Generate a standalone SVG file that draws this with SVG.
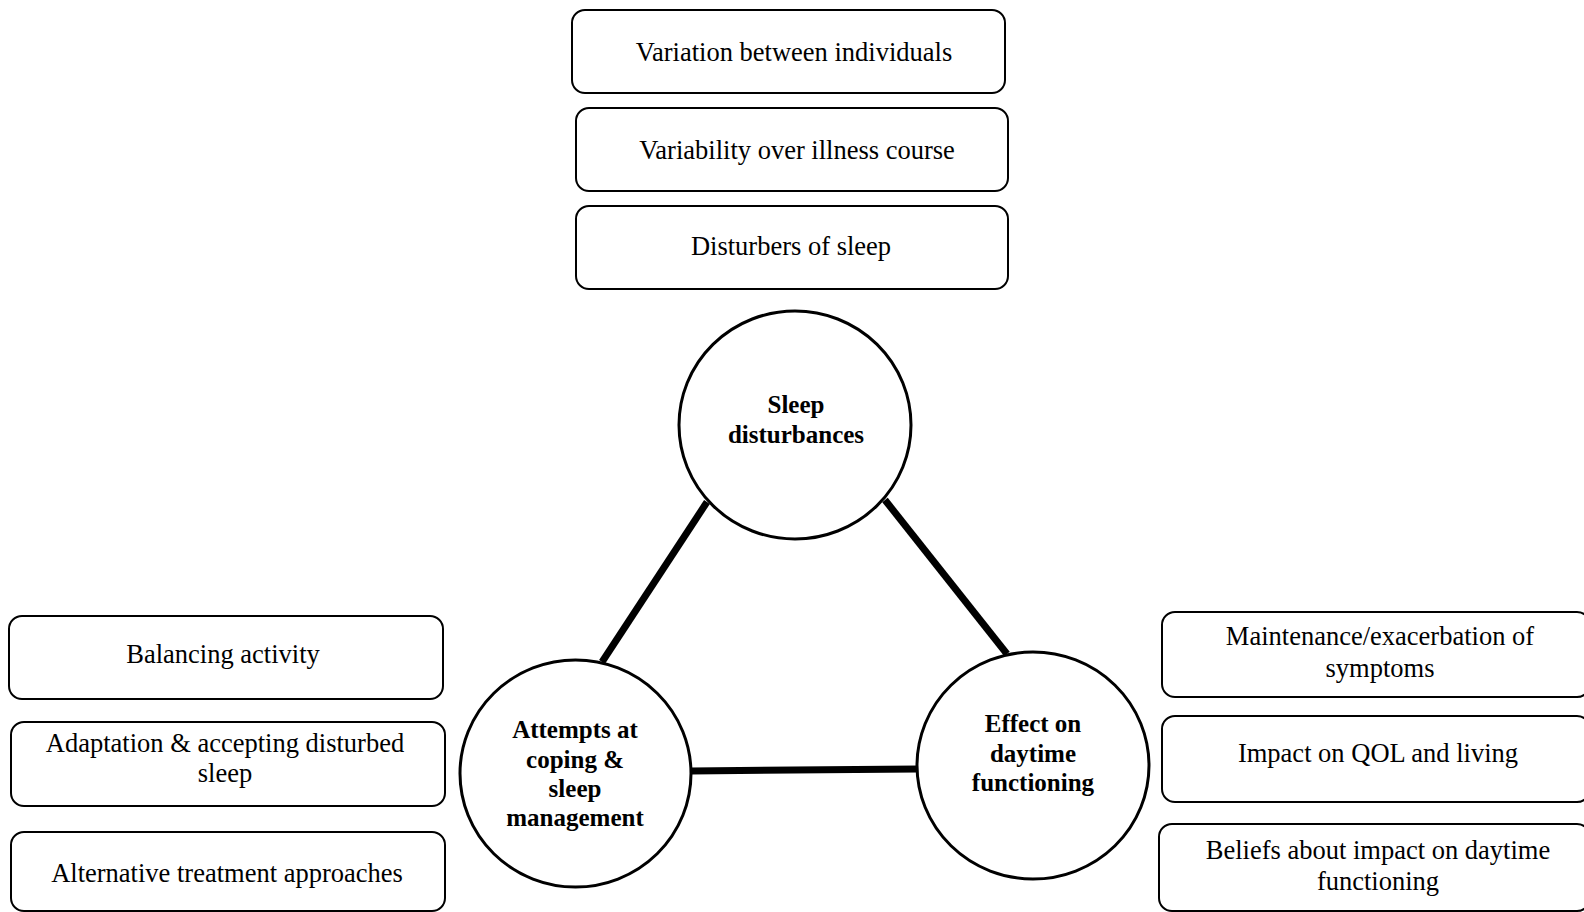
<svg xmlns="http://www.w3.org/2000/svg" width="1584" height="912" viewBox="0 0 1584 912">
<style>
.box{fill:#fff;stroke:#000;stroke-width:2}
.circ{fill:#fff;stroke:#000;stroke-width:3}
.t{font-family:"Liberation Serif","Times New Roman",serif;font-size:26.5px;fill:#000;text-anchor:middle}
.b{font-family:"Liberation Serif","Times New Roman",serif;font-size:25px;font-weight:bold;fill:#000;text-anchor:middle}
.con{stroke:#000;stroke-width:7;fill:none}
</style>
<rect width="1584" height="912" fill="#fff"/>
<g id="connectors">
<line class="con" x1="707" y1="502" x2="602" y2="662"/>
<line class="con" x1="885" y1="500" x2="1007" y2="654"/>
<line class="con" x1="691" y1="771" x2="918" y2="769"/>
</g>
<g id="box-variation">
<rect class="box" x="572" y="10" width="433" height="83" rx="13"/>
<text class="t" x="794" y="61">Variation between individuals</text>
</g>
<g id="box-variability">
<rect class="box" x="576" y="108" width="432" height="83" rx="13"/>
<text class="t" x="797" y="159">Variability over illness course</text>
</g>
<g id="box-disturbers">
<rect class="box" x="576" y="206" width="432" height="83" rx="13"/>
<text class="t" x="791" y="255">Disturbers of sleep</text>
</g>
<g id="node-sleep">
<ellipse class="circ" cx="795" cy="425" rx="116" ry="114"/>
<text class="b" x="796" y="413">Sleep</text>
<text class="b" x="796" y="443">disturbances</text>
</g>
<g id="node-attempts">
<ellipse class="circ" cx="575.5" cy="773.5" rx="115.5" ry="113.5"/>
<text class="b" x="575" y="738">Attempts at</text>
<text class="b" x="575" y="768">coping &amp;</text>
<text class="b" x="575" y="797">sleep</text>
<text class="b" x="575" y="826">management</text>
</g>
<g id="node-effect">
<ellipse class="circ" cx="1033" cy="765.5" rx="116" ry="113.5"/>
<text class="b" x="1033" y="732">Effect on</text>
<text class="b" x="1033" y="762">daytime</text>
<text class="b" x="1033" y="791">functioning</text>
</g>
<g id="box-balancing">
<rect class="box" x="9" y="616" width="434" height="83" rx="13"/>
<text class="t" x="223" y="663">Balancing activity</text>
</g>
<g id="box-adaptation">
<rect class="box" x="11" y="722" width="434" height="84" rx="13"/>
<text class="t" x="225" y="752">Adaptation &amp; accepting disturbed</text>
<text class="t" x="225" y="782">sleep</text>
</g>
<g id="box-alternative">
<rect class="box" x="11" y="832" width="434" height="79" rx="13"/>
<text class="t" x="227" y="882">Alternative treatment approaches</text>
</g>
<g id="box-maintenance">
<rect class="box" x="1162" y="612" width="428" height="85" rx="13"/>
<text class="t" x="1380" y="645">Maintenance/exacerbation of</text>
<text class="t" x="1380" y="677">symptoms</text>
</g>
<g id="box-impact">
<rect class="box" x="1162" y="716" width="428" height="86" rx="13"/>
<text class="t" x="1378" y="762">Impact on QOL and living</text>
</g>
<g id="box-beliefs">
<rect class="box" x="1159" y="824" width="431" height="87" rx="13"/>
<text class="t" x="1378" y="859">Beliefs about impact on daytime</text>
<text class="t" x="1378" y="890">functioning</text>
</g>
</svg>
